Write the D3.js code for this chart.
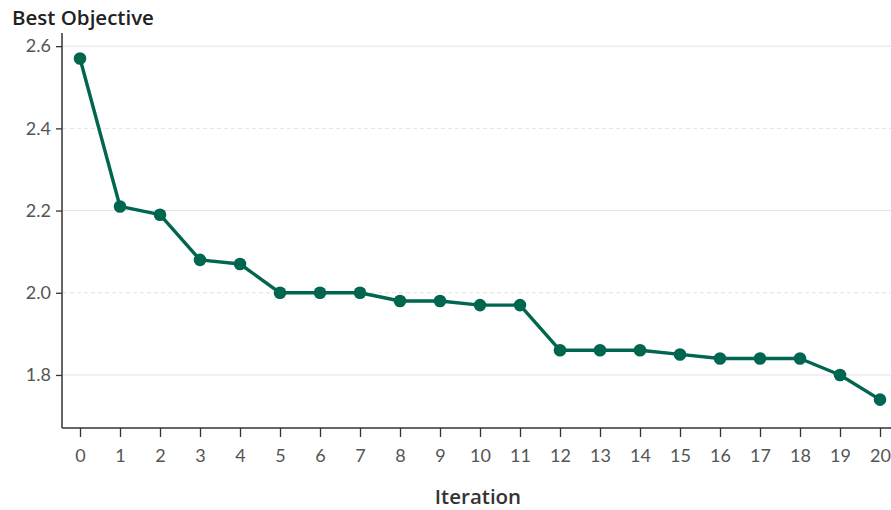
<!DOCTYPE html>
<html><head><meta charset="utf-8">
<script src="https://cdn.jsdelivr.net/npm/d3@7"></script>
<style>body{margin:0;background:#fff;} text{font-family:Lato,"Open Sans",sans-serif;}</style>
</head><body>
<svg id="c" width="891" height="510"></svg>
<script>
const iterations = [0,1,2,3,4,5,6,7,8,9,10,11,12,13,14,15,16,17,18,19,20];
const bestObjective = [2.57,2.21,2.19,2.08,2.07,2.00,2.00,2.00,1.98,1.98,1.97,1.97,1.86,1.86,1.86,1.85,1.84,1.84,1.84,1.80,1.74];
const yTicks = [1.8,2.0,2.2,2.4,2.6];
const yTitle = "Best Objective";
const xTitle = "Iteration";

const svg = d3.select("#c");
const mLeft = 62, mRight = 891, mTop = 33, mBottom = 428;
const x = d3.scaleLinear().domain([0,20]).range([80,880]);
const y = d3.scaleLinear().domain([1.671,2.632]).range([mBottom, mTop]);
const color = "#00664f";

// grid
svg.append("g").selectAll("line").data(yTicks).join("line")
  .attr("x1", mLeft+1).attr("x2", mRight).attr("y1", d=>y(d)).attr("y2", d=>y(d))
  .attr("stroke", "#e2e2e2").attr("stroke-width", 1)
  .attr("stroke-dasharray", (d,i)=> (i%2===0 ? null : "4,3"));

// y axis
const ya = svg.append("g").attr("transform", `translate(${mLeft},0)`)
  .call(d3.axisLeft(y).tickValues(yTicks).tickFormat(d3.format(".1f")).tickSize(6).tickPadding(5));
ya.select(".domain").attr("d", `M0,${mTop}V${mBottom}`).attr("stroke","#333").attr("stroke-width",1.5);
ya.selectAll(".tick line").attr("stroke","#333").attr("stroke-width",1.3);
ya.selectAll(".tick text").attr("fill","#555").style("font-size","18px");

// x axis
const xa = svg.append("g").attr("transform", `translate(0,${mBottom})`)
  .call(d3.axisBottom(x).tickValues(iterations).tickFormat(d3.format("d")).tickSize(9).tickPadding(12));
xa.select(".domain").attr("d", `M${mLeft},0H${mRight}`).attr("stroke","#333").attr("stroke-width",1.5);
xa.selectAll(".tick line").attr("stroke","#333").attr("stroke-width",1.3);
xa.selectAll(".tick text").attr("fill","#555").style("font-size","18px");

// titles
svg.append("text").attr("x", 12).attr("y", 25).text(yTitle)
  .attr("fill","#222").style("font-family","'Open Sans',sans-serif").style("font-size","20.5px").style("font-weight","600");
svg.append("text").attr("x", 478).attr("y", 504).attr("text-anchor","middle").text(xTitle)
  .attr("fill","#333").style("font-family","'Open Sans',sans-serif").style("font-size","20.5px").style("font-weight","600");

// line
const data = iterations.map((d,i)=>({x:d,y:bestObjective[i]}));
svg.append("path").datum(data)
  .attr("fill","none").attr("stroke",color).attr("stroke-width",3.4).attr("stroke-linejoin","round")
  .attr("d", d3.line().x(d=>x(d.x)).y(d=>y(d.y)));
svg.append("g").selectAll("circle").data(data).join("circle")
  .attr("cx", d=>x(d.x)).attr("cy", d=>y(d.y)).attr("r", 6.3).attr("fill", color);
</script>
</body></html>
